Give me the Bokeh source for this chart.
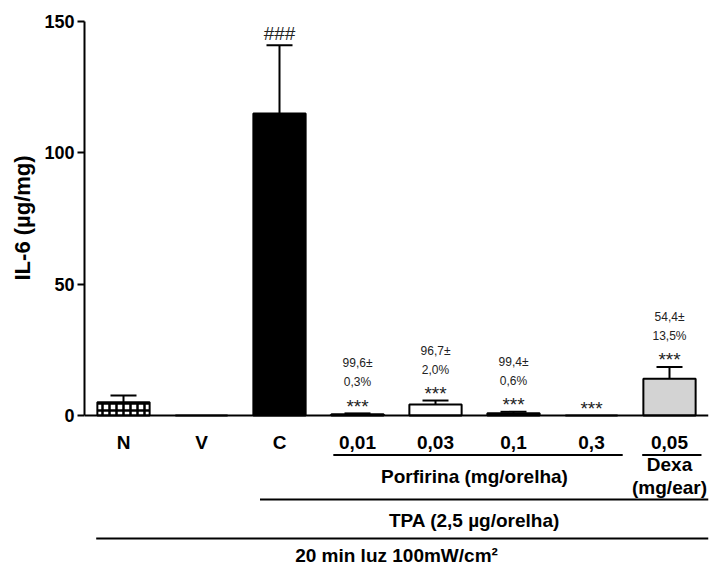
from bokeh.plotting import figure
from bokeh.models import Range1d, FixedTicker, Whisker, TeeHead, ColumnDataSource, Title
from bokeh.core.properties import value
from bokeh.embed import file_html
from bokeh.resources import INLINE

# ---- data ----
categories = ["N", "V", "C", "0,01", "0,03", "0,1", "0,3", "0,05"]
il6_mean = [5.0, 0.0, 115.0, 0.5, 4.2, 0.9, 0.0, 14.0]
il6_sem = [2.6, 0.0, 26.0, 0.3, 1.5, 0.5, 0.0, 4.5]
bar_fill = ["white", "white", "black", "black", "white", "black", "black", "#d3d3d3"]
bar_hatch = ["cross", " ", " ", " ", " ", " ", " ", " "]
sig_marks = ["", "", "###", "***", "***", "***", "***", "***"]
inhib_value = ["", "", "", "99,6\u00b1", "96,7\u00b1", "99,4\u00b1", "", "54,4\u00b1"]
inhib_sem = ["", "", "", "0,3%", "2,0%", "0,6%", "", "13,5%"]
y_ticks = [0, 50, 100, 150]
y_label = "IL-6 (\u00b5g/mg)"
group_labels = ["Porfirina (mg/orelha)", "Dexa\n(mg/ear)", "TPA (2,5 \u00b5g/orelha)", "20 min luz 100mW/cm\u00b2"]
group_first = [3, 7, 2, 0]
group_last = [6, 7, 7, 7]

FONT = "Liberation Sans"
PX = 150.0 / 394.0   # data units per screen pixel on y

n = len(categories)
xs = list(range(n))
ymin = -(565 - 415) * PX

p = figure(width=709, height=565, output_backend="svg", toolbar_location=None,
           x_range=Range1d(-0.5, n - 0.5), y_range=Range1d(ymin, 150),
           x_axis_location=None, min_border_left=84, min_border_right=1,
           min_border_top=21, min_border_bottom=0)
p.outline_line_color = None
p.grid.visible = False
p.background_fill_color = "white"
p.border_fill_color = "white"

# y axis
ya = p.yaxis[0]
ya.bounds = (0, 150)
ya.ticker = FixedTicker(ticks=y_ticks)
ya.minor_tick_line_color = None
ya.major_tick_in = 0
ya.major_tick_out = 7
ya.major_tick_line_width = 2
ya.axis_line_width = 2
ya.axis_line_color = "black"
ya.major_tick_line_color = "black"
ya.major_label_text_color = "black"
ya.major_label_text_font = FONT
ya.major_label_text_font_style = "bold"
ya.major_label_text_font_size = "18px"
ya.major_label_standoff = 3

# y axis title, placed so it is centred on the axis bounds (~217px from top)
p.add_layout(Title(text=y_label, align="left", offset=285, standoff=14,
                   text_font=FONT, text_font_style="bold", text_font_size="22px",
                   text_color="black"), "left")

# bars
src = ColumnDataSource(dict(x=xs, top=il6_mean, fill=bar_fill, hatch=bar_hatch))
p.vbar(x="x", top="top", width=0.67, source=src, fill_color="fill", line_color="black",
       line_width=2, hatch_pattern="hatch", hatch_color="black", hatch_scale=7, hatch_weight=2.5)

# error bars (upper only)
ex = [x for x, s in zip(xs, il6_sem) if s > 0]
elo = [m for m, s in zip(il6_mean, il6_sem) if s > 0]
ehi = [m + s for m, s in zip(il6_mean, il6_sem) if s > 0]
esrc = ColumnDataSource(dict(x=ex, lower=elo, upper=ehi))
p.add_layout(Whisker(base="x", lower="lower", upper="upper", source=esrc, dimension="height",
                     line_width=2, line_color="black",
                     upper_head=TeeHead(size=26, line_width=2, line_color="black"),
                     lower_head=None))

# x axis line at zero
p.segment(x0=[-0.5], y0=[0], x1=[n - 0.5], y1=[0], line_color="black", line_width=2)

# category labels
p.text(x=xs, y=[-10.3] * n, text=categories, text_align="center", text_baseline="middle",
       text_font=value(FONT), text_font_style="bold", text_font_size="19px", text_color="black")

# significance marks
caps = [m + s for m, s in zip(il6_mean, il6_sem)]
mk_x = [x for x, t in zip(xs, sig_marks) if t]
mk_t = [t for t in sig_marks if t]
mk_y = [c + (12 if t.startswith("#") else 7) * PX for c, t in zip(caps, sig_marks) if t]
p.text(x=mk_x, y=mk_y, text=mk_t, text_align="center", text_baseline="middle",
       text_font=value(FONT), text_font_size="19px", text_color="#222222")

# inhibition percentages
iv_x = [x for x, t in zip(xs, inhib_value) if t]
iv_c = [c for c, t in zip(caps, inhib_value) if t]
p.text(x=iv_x, y=[c + 50 * PX for c in iv_c], text=[t for t in inhib_value if t],
       text_align="center", text_baseline="middle", text_font=value(FONT),
       text_font_size="12px", text_color="#222222")
p.text(x=iv_x, y=[c + 31 * PX for c in iv_c], text=[t for t in inhib_sem if t],
       text_align="center", text_baseline="middle", text_font=value(FONT),
       text_font_size="12px", text_color="#222222")

# group lines and labels
line_left = [0.31, 0.35, 0.25, 0.35]
line_right = [0.40, 0.41, 0.5, 0.5]
line_y = [-15.0, -15.0, -32.0, -46.8]
label_y = [-23.2, -23.2, -40.0, -53.3]
p.segment(x0=[f - a for f, a in zip(group_first, line_left)], y0=line_y,
          x1=[l + b for l, b in zip(group_last, line_right)], y1=line_y,
          line_color="black", line_width=2)
p.text(x=[(f + l) / 2 for f, l in zip(group_first, group_last)], y=label_y, text=group_labels,
       text_align="center", text_baseline="middle", text_font=value(FONT),
       text_font_style="bold", text_font_size="19px", text_color="black",
       text_line_height=1.1)

open("out.html", "w").write(file_html(p, INLINE))
